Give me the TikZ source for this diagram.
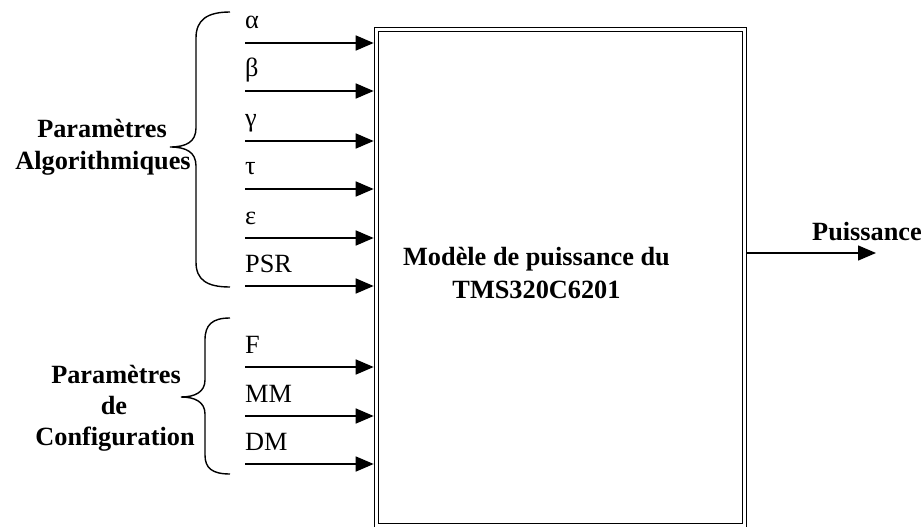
\documentclass[tikz,border=0pt]{standalone}
\usepackage{fontspec}
\setmainfont{Liberation Serif}
\usetikzlibrary{arrows.meta}
\tikzset{
  arr/.style={line width=1.5pt,-{Triangle[length=18pt,width=15pt]}},
  brace/.style={line width=1.4pt},
  inlabel/.style={anchor=base west,inner sep=0pt,font=\fontsize{26.3}{32}\selectfont},
  boldlabel/.style={anchor=base,inner sep=0pt,font=\fontsize{26.3}{32}\selectfont\bfseries},
  mainbox/.style={draw,double,double distance=2.4pt,line width=1.6pt,inner sep=0pt,outer sep=2.8pt,
    minimum width=368pt,minimum height=496pt}
}
\begin{document}
\begin{tikzpicture}[x=1pt,y=-1pt]
\useasboundingbox (0,0) rectangle (922,527);
% main box
\node[mainbox] (box) at (560.5,277.5) {};
\node[boldlabel] (t1) at (536.5,265) {Modèle de puissance du};
\node[boldlabel] (t2) at (536.5,298) {TMS320C6201};
% inputs
\foreach \n/\y/\txt in {a/43/α, b/91/β, c/141/γ, d/189/τ, e/238/ε, f/286/PSR, g/367/F, h/416/MM, i/464/DM}{
  \coordinate (s\n) at (245,\y);
  \node[inlabel] (l\n) at (245,\y-14) {\txt};
  \draw[arr] (s\n) -- (s\n -| box.west);
}
% output
\coordinate (out) at (876,253);
\draw[arr] (box.east |- out) -- (out);
\node[boldlabel,anchor=base west] (pout) at (812,240) {Puissance};
% left labels
\node[boldlabel] (pa1) at (102,138) {Paramètres};
\node[boldlabel] (pa2) at (103,169) {Algorithmiques};
\node[boldlabel] (pc1) at (116,383) {Paramètres};
\node[boldlabel] (pc2) at (114,414) {de};
\node[boldlabel] (pc3) at (115,445) {Configuration};
% braces
\draw[brace] (230,12) .. controls (207,12) and (196,20) .. (196,38)
  -- (196,128) .. controls (196,142) and (186,147) .. (170,147)
  .. controls (186,147) and (196,152) .. (196,166)
  -- (196,262) .. controls (196,280) and (207,287) .. (230,287);
\draw[brace] (230,318) .. controls (212,318) and (205,325) .. (205,340)
  -- (205,380) .. controls (205,392) and (195,397) .. (181,397)
  .. controls (195,397) and (205,402) .. (205,414)
  -- (205,455) .. controls (205,468) and (212,474) .. (230,474);
\end{tikzpicture}
\end{document}
